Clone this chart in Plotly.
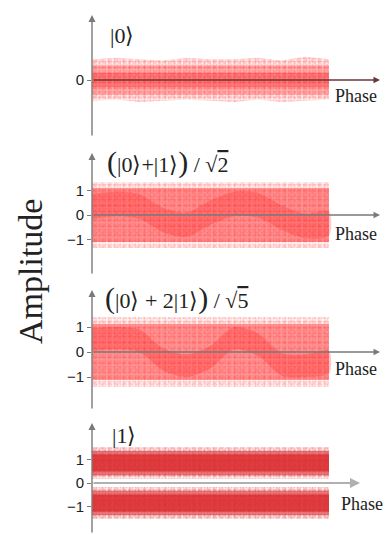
import plotly.graph_objects as go

W, H = 387, 534

# ---------------- data (amplitude envelopes vs phase) ----------------
phase = [0, 1, 2, 3, 4, 5, 6, 7, 8, 9, 10]

# |0> : single band centred at 0
p1_fuzz_hi = [0.85, 0.9, 0.85, 0.8, 0.9, 0.85, 0.85, 0.9, 0.8, 0.95, 0.85]
p1_fuzz_lo = [-0.85, -0.8, -0.9, -0.85, -0.8, -0.85, -0.9, -0.8, -0.9, -0.85, -0.8]
p1_mid = 0.6
p1_core = 0.3

# (|0>+|1>)/sqrt2
p2_fuzz = 1.35
p2_outer = 1.1
p2_core_c = [0.35, 0.45, 0.35, -0.2, -0.4, 0.1, 0.45, 0.4, -0.1, -0.45, -0.35]
p2_core_w = 0.5

# (|0>+2|1>)/sqrt5
p3_fuzz = 1.4
p3_outer = 1.12
p3_core_c = [0.5, 0.55, 0.45, -0.3, -0.55, -0.2, 0.55, 0.3, -0.5, -0.55, -0.4]
p3_core_w = 0.45

# |1> : two bands
p4_centre = 0.85
p4_fuzz_w = 0.68
p4_outer_w = 0.52
p4_core_w = 0.36

titles = [
    "|0⟩",
    "<span style='font-size:30px'>(</span>|0⟩+|1⟩<span style='font-size:30px'>)</span> / √<span style='text-decoration:overline'>2</span>",
    "<span style='font-size:30px'>(</span>|0⟩ + 2|1⟩<span style='font-size:30px'>)</span> / √<span style='text-decoration:overline'>5</span>",
    "|1⟩",
]
ytick_vals = [[0], [-1, 0, 1], [-1, 0, 1], [-1, 0, 1]]
ytick_text = [["0"], ["−1", "0", "1"], ["−1", "0", "1"], ["−1", "0", "1"]]

# ---------------- layout constants (pixels) ----------------
X0 = 92           # y-axis position
KX = 23.7         # px per phase unit
panels = [
    dict(top=15, zero=80, bot=137, s=24.5, xend=380, tx=108, ty=36, px=333, py=96),
    dict(top=153, zero=215, bot=275, s=24.5, xend=380, tx=105, ty=162, px=333, py=234),
    dict(top=290, zero=352, bot=410, s=25.0, xend=380, tx=103, ty=298, px=333, py=369),
    dict(top=423, zero=483, bot=534, s=23.5, xend=360, tx=110, ty=435, px=339, py=504),
]

RED = "255,0,0"
DRED = "218,38,42"


def band(x, lo, hi, color, alpha, xa, ya, smooth=False, pattern=None):
    tr = go.Scatter(
        x=list(x) + list(x)[::-1],
        y=list(hi) + list(lo)[::-1],
        fill="toself",
        mode="lines",
        line=dict(width=0, shape="spline" if smooth else "linear", smoothing=0.8),
        fillcolor=f"rgba({color},{alpha})",
        hoverinfo="skip",
        showlegend=False,
        xaxis=xa,
        yaxis=ya,
    )
    if pattern:
        tr.fillpattern = pattern
    return tr


def speckle(fig, x, lo, hi, color, a, xa, ya):
    # layered dot patterns of different pitch give an irregular speckled texture
    for size, sol, aa in ((3, 0.3, a), (5, 0.35, a * 0.8), (7, 0.3, a * 0.7)):
        fig.add_trace(band(x, lo, hi, color, 0.0, xa, ya,
                           pattern=dict(shape=".", fgcolor=f"rgba({color},{aa})",
                                        bgcolor="rgba(0,0,0,0)", size=size, solidity=sol)))


fig = go.Figure()
n = len(phase)

# Panel 1
xa, ya = "x", "y"
fig.add_trace(band(phase, p1_fuzz_lo, p1_fuzz_hi, RED, 0.07, xa, ya))
speckle(fig, phase, p1_fuzz_lo, p1_fuzz_hi, RED, 0.35, xa, ya)
fig.add_trace(band(phase, [-p1_mid] * n, [p1_mid] * n, RED, 0.25, xa, ya))
fig.add_trace(band(phase, [-p1_core] * n, [p1_core] * n, RED, 0.3, xa, ya))

# Panel 2
xa, ya = "x2", "y2"
fig.add_trace(band(phase, [-p2_fuzz] * n, [p2_fuzz] * n, RED, 0.04, xa, ya))
speckle(fig, phase, [-p2_fuzz] * n, [p2_fuzz] * n, RED, 0.3, xa, ya)
fig.add_trace(band(phase, [-p2_outer] * n, [p2_outer] * n, RED, 0.4, xa, ya))
fig.add_trace(band(phase, [c - p2_core_w for c in p2_core_c], [c + p2_core_w for c in p2_core_c],
                   RED, 0.2, xa, ya, smooth=True))

# Panel 3
xa, ya = "x3", "y3"
fig.add_trace(band(phase, [-p3_fuzz] * n, [p3_fuzz] * n, RED, 0.04, xa, ya))
speckle(fig, phase, [-p3_fuzz] * n, [p3_fuzz] * n, RED, 0.3, xa, ya)
fig.add_trace(band(phase, [-p3_outer] * n, [p3_outer] * n, RED, 0.38, xa, ya))
fig.add_trace(band(phase, [c - p3_core_w for c in p3_core_c], [c + p3_core_w for c in p3_core_c],
                   RED, 0.22, xa, ya, smooth=True))

# Panel 4
xa, ya = "x4", "y4"
for sgn in (1, -1):
    c = sgn * p4_centre
    lo, hi = [c - p4_fuzz_w] * n, [c + p4_fuzz_w] * n
    fig.add_trace(band(phase, lo, hi, DRED, 0.06, xa, ya))
    speckle(fig, phase, lo, hi, DRED, 0.5, xa, ya)
    fig.add_trace(band(phase, [c - p4_outer_w] * n, [c + p4_outer_w] * n, DRED, 0.6, xa, ya))
    fig.add_trace(band(phase, [c - p4_core_w] * n, [c + p4_core_w] * n, DRED, 0.7, xa, ya))

layout = dict(
    width=W, height=H,
    margin=dict(l=0, r=0, t=0, b=0, autoexpand=False),
    paper_bgcolor="white", plot_bgcolor="rgba(0,0,0,0)",
    showlegend=False,
)
annotations = []
AX = "#7a7a7a"
SERIF = "Liberation Serif, Times New Roman, serif"
for i, p in enumerate(panels):
    k = "" if i == 0 else str(i + 1)
    ymax = (p["zero"] - p["top"]) / p["s"]
    ymin = -(p["bot"] - p["zero"]) / p["s"]
    layout["xaxis" + k] = dict(domain=[X0 / W, 1], range=[0, (W - X0) / KX], visible=False,
                               anchor="y" + k, fixedrange=True)
    layout["yaxis" + k] = dict(
        domain=[1 - p["bot"] / H, 1 - p["top"] / H], range=[ymin, ymax], anchor="x" + k,
        showgrid=False, zeroline=False, showline=False,
        tickvals=ytick_vals[i], ticktext=ytick_text[i],
        ticks="outside", ticklen=4, tickcolor=AX, tickwidth=1.2,
        tickfont=dict(family="Liberation Sans, Arial", size=15, color="#222"),
        fixedrange=True,
    )
    xr, yr = "x" + k, "y" + k
    annotations.append(dict(x=0, y=ymax, ax=0, ay=ymin, xref=xr, yref=yr, axref=xr, ayref=yr,
                            showarrow=True, arrowhead=2, arrowsize=1, arrowwidth=1.4,
                            arrowcolor=AX, text=""))
    xend = (p["xend"] - X0) / KX
    xcol = "#b0b0b0" if i == 3 else ("#6a3838" if i == 0 else AX)
    annotations.append(dict(x=xend, y=0, ax=0, ay=0, xref=xr, yref=yr, axref=xr, ayref=yr,
                            showarrow=True, arrowhead=2, arrowsize=1,
                            arrowwidth=2 if i == 3 else 1.3,
                            arrowcolor=xcol, text=""))
    annotations.append(dict(x=p["tx"] / W, y=1 - p["ty"] / H, xref="paper", yref="paper",
                            xanchor="left", yanchor="middle", showarrow=False, text=titles[i],
                            font=dict(family=SERIF, size=22, color="#222")))
    annotations.append(dict(x=p["px"] / W, y=1 - p["py"] / H, xref="paper", yref="paper",
                            xanchor="left", yanchor="middle", showarrow=False, text="Phase",
                            font=dict(family=SERIF, size=18, color="#222")))

annotations.append(dict(x=30 / W, y=1 - 272 / H, xref="paper", yref="paper", textangle=-90,
                        xanchor="center", yanchor="middle", showarrow=False, text="Amplitude",
                        font=dict(family=SERIF, size=34, color="#222")))
layout["annotations"] = annotations
fig.update_layout(**layout)

fig.write_html("out.html", config={"displayModeBar": False},
               post_script="document.body.style.margin='0';document.body.style.overflow='hidden';")
